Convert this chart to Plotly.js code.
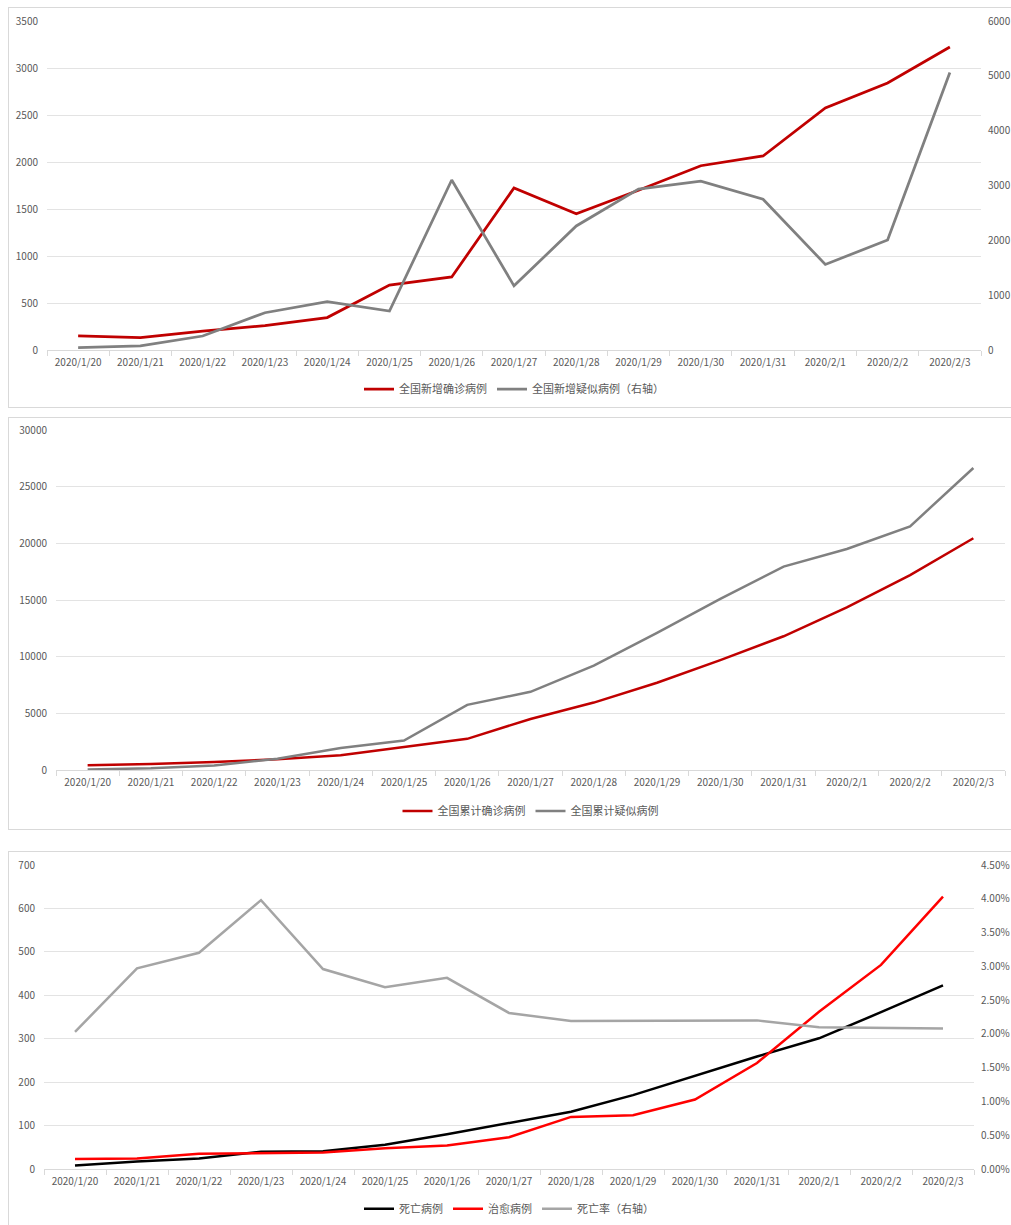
<!DOCTYPE html>
<html>
<head>
<meta charset="utf-8">
<script src="https://cdn.plot.ly/plotly-3.0.1.min.js"></script>
<style>
  body { margin: 0; background: #ffffff; width: 1011px; height: 1225px; overflow: hidden; position: relative; }
  .panel { position: absolute; left: 8px; width: 1010px; border: 1px solid #d9d9d9; box-sizing: border-box; background: #fff; }
</style>
</head>
<body>
<div id="p1" class="panel" style="top:7px;height:401px;"></div>
<div id="p2" class="panel" style="top:417px;height:413px;"></div>
<div id="p3" class="panel" style="top:851px;height:380px;"></div>
<script>
const dates = ["2020/1/20","2020/1/21","2020/1/22","2020/1/23","2020/1/24","2020/1/25","2020/1/26","2020/1/27","2020/1/28","2020/1/29","2020/1/30","2020/1/31","2020/2/1","2020/2/2","2020/2/3"];

// Panel 1: daily new
const newConfirmed = [149, 131, 200, 259, 345, 690, 777, 1724, 1450, 1700, 1960, 2064, 2575, 2841, 3224];
const newSuspected = [45, 75, 255, 680, 880, 710, 3100, 1170, 2262, 2935, 3080, 2750, 1560, 2006, 5060];

// Panel 2: cumulative
const cumConfirmed = [420, 520, 700, 950, 1300, 2000, 2750, 4500, 5950, 7700, 9700, 11800, 14350, 17200, 20450];
const cumSuspected = [50, 150, 400, 1000, 1950, 2600, 5750, 6900, 9200, 12100, 15100, 17950, 19500, 21500, 26650];

// Panel 3: deaths, recovered, death rate
const deaths = [8, 17, 24, 40, 41, 56, 80, 106, 132, 170, 214, 259, 301, 361, 423];
const recovered = [23, 24, 35, 36, 38, 48, 54, 73, 120, 124, 160, 244, 362, 470, 627];
const deathRate = [0.0203, 0.0297, 0.0320, 0.0398, 0.0296, 0.0269, 0.0283, 0.0231, 0.0219, 0.0219, 0.0219, 0.0220, 0.0210, 0.0209, 0.0208];

const FONT = "'Noto Sans CJK SC', 'Noto Sans', sans-serif";
const tickFont = {family: FONT, size: 10, color: '#595959'};
const cfg = {staticPlot: true, displayModeBar: false};

function xaxis() {
  return {
    type: 'category', tickfont: tickFont, showgrid: false,
    range: [-0.5, dates.length - 0.5], autorange: false,
    showline: true, linecolor: '#d9d9d9', linewidth: 1,
    ticks: 'outside', tickson: 'boundaries', ticklen: 5, tickcolor: '#d9d9d9',
    ticklabelstandoff: 3,
    zeroline: false, fixedrange: true
  };
}
function yleft(range, dtick) {
  return {
    range: range, dtick: dtick, tickfont: tickFont, showgrid: true, tickformat: 'd',
    gridcolor: '#e3e3e3', gridwidth: 1, zeroline: false, showline: false,
    ticks: '', ticklabelstandoff: 8
  };
}
function legend(y) {
  return {orientation: 'h', x: 0.5, xanchor: 'center', y: y, yref: 'container', yanchor: 'middle',
          font: {family: FONT, size: 11, color: '#595959'}, itemwidth: 30, tracegroupgap: 0, bgcolor: 'rgba(0,0,0,0)'};
}

// Panel 1
Plotly.newPlot('p1', [
  {x: dates, y: newConfirmed, type: 'scatter', mode: 'lines', name: '全国新增确诊病例',
   line: {color: '#C00000', width: 2.75}},
  {x: dates, y: newSuspected, type: 'scatter', mode: 'lines', name: '全国新增疑似病例（右轴）', yaxis: 'y2',
   line: {color: '#808080', width: 2.75}}
], {
  width: 1008, height: 399,
  margin: {l: 38, r: 36, t: 13, b: 57, autoexpand: false},
  paper_bgcolor: 'rgba(0,0,0,0)', plot_bgcolor: 'rgba(0,0,0,0)',
  xaxis: xaxis(),
  yaxis: yleft([0, 3500], 500),
  yaxis2: {overlaying: 'y', side: 'right', range: [0, 6000], dtick: 1000, showgrid: false, tickformat: 'd',
           zeroline: false, tickfont: tickFont, ticklabelstandoff: 6},
  showlegend: true, legend: legend(0.045)
}, cfg);

// Panel 2
Plotly.newPlot('p2', [
  {x: dates, y: cumConfirmed, type: 'scatter', mode: 'lines', name: '全国累计确诊病例',
   line: {color: '#C00000', width: 2.5}},
  {x: dates, y: cumSuspected, type: 'scatter', mode: 'lines', name: '全国累计疑似病例',
   line: {color: '#808080', width: 2.5}}
], {
  width: 1008, height: 411,
  margin: {l: 47, r: 12, t: 12, b: 59, autoexpand: false},
  paper_bgcolor: 'rgba(0,0,0,0)', plot_bgcolor: 'rgba(0,0,0,0)',
  xaxis: xaxis(),
  yaxis: yleft([0, 30000], 5000),
  showlegend: true, legend: legend(0.044)
}, cfg);

// Panel 3
Plotly.newPlot('p3', [
  {x: dates, y: deaths, type: 'scatter', mode: 'lines', name: '死亡病例',
   line: {color: '#000000', width: 2.5}},
  {x: dates, y: recovered, type: 'scatter', mode: 'lines', name: '治愈病例',
   line: {color: '#FF0000', width: 2.5}},
  {x: dates, y: deathRate, type: 'scatter', mode: 'lines', name: '死亡率（右轴）', yaxis: 'y2',
   line: {color: '#A5A5A5', width: 2.5}}
], {
  width: 1008, height: 378,
  margin: {l: 35, r: 43, t: 13, b: 61, autoexpand: false},
  paper_bgcolor: 'rgba(0,0,0,0)', plot_bgcolor: 'rgba(0,0,0,0)',
  xaxis: xaxis(),
  yaxis: yleft([0, 700], 100),
  yaxis2: {overlaying: 'y', side: 'right', range: [0, 0.045], dtick: 0.005, tickformat: '.2%',
           showgrid: false, zeroline: false, tickfont: tickFont, ticklabelstandoff: 6},
  showlegend: true, legend: legend(0.056)
}, cfg);
</script>
</body>
</html>
